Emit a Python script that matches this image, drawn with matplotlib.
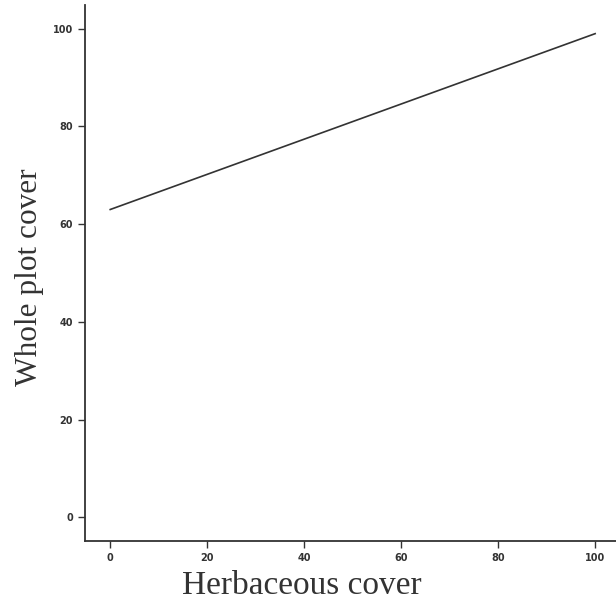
import matplotlib.pyplot as plt

herb_cover = [0, 100]
whole_cover = [63, 99]
x_ticks = [0, 20, 40, 60, 80, 100]
y_ticks = [0, 20, 40, 60, 80, 100]

fig = plt.figure(figsize=(6.16, 6.04), dpi=100)
ax = fig.add_axes([0.138, 0.104, 0.862, 0.888])

ax.plot(herb_cover, whole_cover, color='#333333', linewidth=1.2)

ax.set_xlim(-5.2, 104.3)
ax.set_ylim(-4.9, 104.9)
ax.set_xticks(x_ticks)
ax.set_yticks(y_ticks)
ax.tick_params(direction='out', length=5, width=1, labelsize=7, color='#333333')
for lab in ax.get_xticklabels() + ax.get_yticklabels():
    lab.set_fontweight('bold')
    lab.set_color('#333333')

ax.spines['top'].set_visible(False)
ax.spines['right'].set_visible(False)
ax.spines['left'].set_color('#333333')
ax.spines['bottom'].set_color('#333333')
ax.spines['left'].set_linewidth(1.3)
ax.spines['bottom'].set_linewidth(1.3)

# axis titles placed where they sit in the scan (not centred on the axes)
fig.text(302 / 616, 1 - 586 / 604, "Herbaceous cover", fontsize=24,
         family='Liberation Serif', color='#333333', ha='center', va='center')
fig.text(30 / 616, 1 - 277 / 604, "Whole plot cover", fontsize=22.5,
         family='Liberation Serif', color='#333333', ha='center', va='center',
         rotation=90)

fig.savefig("out.png", dpi=100)
